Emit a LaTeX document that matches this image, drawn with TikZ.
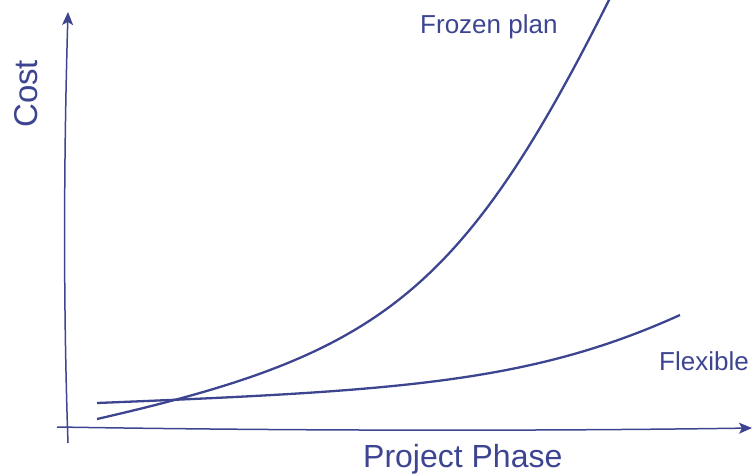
\documentclass[tikz,border=0pt]{standalone}
\usepackage{fontspec}
\setmainfont{Liberation Sans}
\usetikzlibrary{arrows.meta}
\definecolor{ink}{RGB}{61,69,145}
\tikzset{
    axis/.style={ink, line width=1.5pt, -{Stealth[length=13pt,width=11pt,inset=3pt]}},
    curve/.style={ink, line width=2.3pt},
    label/.style={ink, inner sep=0pt, font=\fontsize{26}{30}\selectfont}
}
\begin{document}
\begin{tikzpicture}[x=1pt,y=-1pt]
    \useasboundingbox (0,0) rectangle (752,476);
    \coordinate (ybot) at (68,443);
    \coordinate (ytop) at (68,12);
    \coordinate (xleft) at (57,427);
    \coordinate (xright) at (752,428);
    \draw[axis] (ybot) .. controls (63,300) and (64,150) .. (ytop);
    \draw[axis] (xleft) .. controls (300,431) and (550,431) .. (xright);
    % frozen plan
    \coordinate (frozen0) at (97,419);
    \coordinate (frozen1) at (610,-2);
    \draw[curve] (frozen0) .. controls (377,355) and (460,298) .. (frozen1);
    % flexible
    \coordinate (flex0) at (97,403);
    \coordinate (flex1) at (680,315);
    \draw[curve] (flex0) .. controls (397,391) and (530,383) .. (flex1);
    \node[label, anchor=base west] (frozen) at (420,34) {Frozen plan};
    \node[label, anchor=base west] (flexible) at (659,370) {Flexible};
    \node[label, anchor=base west, font=\fontsize{32}{36}\selectfont] (phase) at (363,467) {Project Phase};
    \node[label, anchor=base west, rotate=90, font=\fontsize{33}{36}\selectfont] (cost) at (37,128) {Cost};
\end{tikzpicture}
\end{document}
